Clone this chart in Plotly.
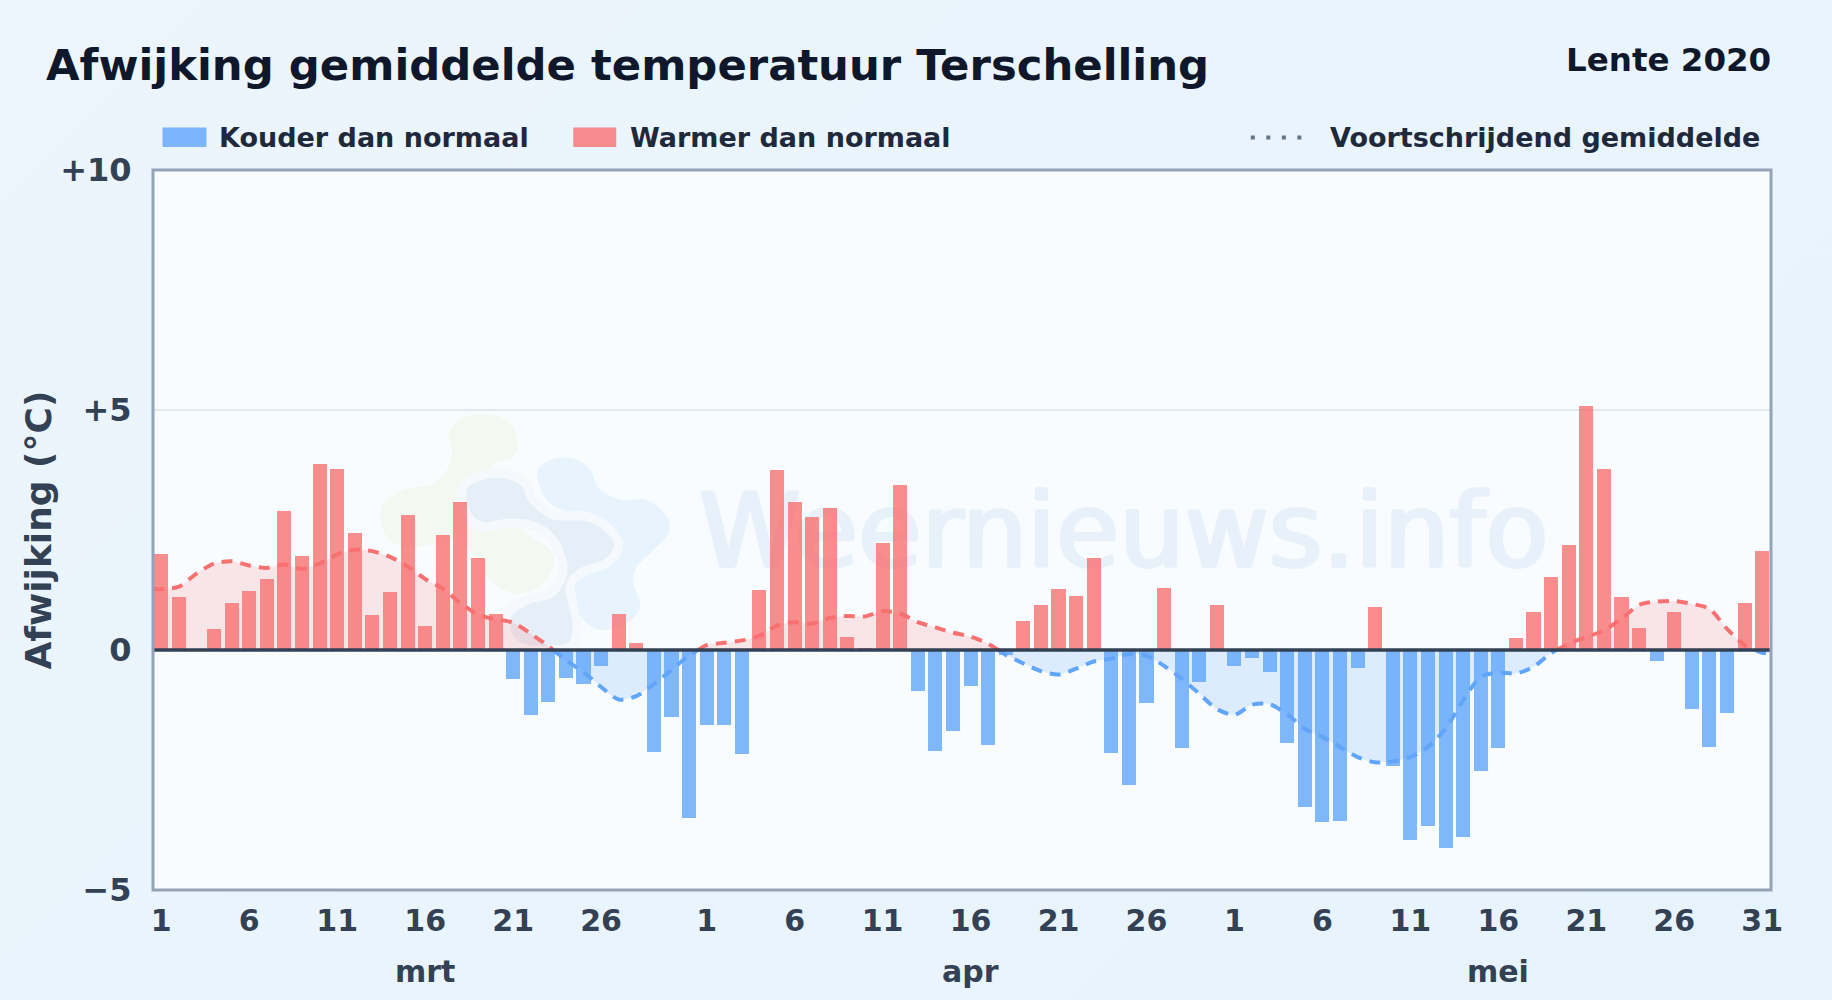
import pandas as pd
import plotly.graph_objects as go

# ---------- data ----------
start_date = "2020-03-01"
end_date = "2020-05-31"
afwijking = [
    1.99, 1.10, 0.00, 0.43, 0.97, 1.22, 1.47, 2.89, 1.95, 3.88, 3.78, 2.43, 0.72, 1.20, 2.82, 0.51,
    2.39, 3.09, 1.91, 0.74, -0.61, -1.36, -1.09, -0.59, -0.71, -0.34, 0.76, 0.14, -2.13, -1.40, -3.50,
    -1.57, -1.57, -2.17, 1.26, 3.75, 3.09, 2.78, 2.95, 0.28, 0.05, 2.22, 3.43, -0.86, -2.11, -1.69,
    -0.76, -1.98, -0.10, 0.60, 0.93, 1.28, 1.12, 1.91, -2.15, -2.82, -1.11, 1.30, -2.05, -0.67, 0.93,
    -0.34, -0.17, -0.46, -1.94, -3.27, -3.59, -3.57, -0.38, 0.89, -2.42, -3.96, -3.67, -4.13, -3.90,
    -2.53, -2.05, 0.26, 0.80, 1.53, 2.18, 5.08, 3.78, 1.10, 0.45, -0.22, 0.80, -1.23, -2.03, -1.32,
    0.97, 2.07,
]
voortschrijdend = [
    1.27, 1.32, 1.59, 1.80, 1.85, 1.76, 1.71, 1.78, 1.69, 1.80, 1.99, 2.09, 2.06, 1.94, 1.74, 1.48,
    1.28, 0.98, 0.74, 0.64, 0.57, 0.34, 0.08, -0.21, -0.46, -0.77, -1.03, -0.96, -0.71, -0.42, -0.11,
    0.10, 0.15, 0.20, 0.30, 0.51, 0.58, 0.55, 0.67, 0.71, 0.70, 0.81, 0.76, 0.58, 0.47, 0.36,
    0.28, 0.13, -0.10, -0.28, -0.44, -0.51, -0.39, -0.24, -0.18, -0.09, -0.12, -0.33, -0.60, -0.91, -1.23,
    -1.35, -1.14, -1.13, -1.34, -1.64, -1.81, -2.02, -2.23, -2.34, -2.32, -2.23, -2.02, -1.64, -1.05,
    -0.56, -0.47, -0.49, -0.35, -0.06, 0.13, 0.27, 0.41, 0.65, 0.94, 1.01, 1.02, 0.96, 0.86, 0.44,
    0.10, -0.06,
]
y_ticks = [-5, 0, 5, 10]
y_tick_labels = ["\u22125", "0", "+5", "+10"]
x_tick_dates = (
    [f"2020-03-{d:02d}" for d in (1, 6, 11, 16, 21, 26)]
    + [f"2020-04-{d:02d}" for d in (1, 6, 11, 16, 21, 26)]
    + [f"2020-05-{d:02d}" for d in (1, 6, 11, 16, 21, 26, 31)]
)
x_tick_labels = [d[-2:].lstrip("0") for d in x_tick_dates]
months = ["mrt", "apr", "mei"]
month_dates = ["2020-03-16", "2020-04-16", "2020-05-16"]

# ---------- style ----------
W, H = 1832, 1000
L, R, T, B = 152.5, 1771.5, 169.5, 890.5
FONT = "DejaVu Sans"
RED, BLUE = "#f87171", "#60a5fa"
DAY_MS = 86400000
WM = "#e8f1fa"


def fx(px):
    return (px - L) / (R - L)


def fy(py):
    return (B - py) / (B - T)


dates = pd.date_range(start_date, end_date, freq="D")
x_range = [dates[0] - pd.Timedelta(hours=11.3), dates[-1] + pd.Timedelta(hours=12)]

# line reaches the frame at both ends: same level as the first / last reading
line_x = [x_range[0]] + list(dates) + [x_range[1]]
line_y = [voortschrijdend[0]] + voortschrijdend + [voortschrijdend[-1]]


def split_by_sign(xs, ys):
    """Runs of equal sign, closed off where the line crosses zero."""
    runs, cur = [], [(xs[0], ys[0])]
    for i in range(1, len(xs)):
        a, b = ys[i - 1], ys[i]
        if (a >= 0) != (b >= 0):
            xc = xs[i - 1] + (xs[i] - xs[i - 1]) * (a / (a - b))
            cur.append((xc, 0))
            runs.append(((a >= 0), cur))
            cur = [(xc, 0)]
        cur.append((xs[i], b))
    runs.append((ys[-1] >= 0, cur))
    return runs


fig = go.Figure()

# watermark text sits in the lower subplot, behind the bars
fig.add_trace(go.Scatter(
    x=[pd.Timestamp("2020-04-24 17:00")], y=[2.27], mode="text", text=["Weernieuws.info"],
    textposition="middle center",
    textfont=dict(family=FONT, size=103, color=WM,
                  shadow=f"2px 0 0 {WM}, -2px 0 0 {WM}, 0 1px 0 {WM}, 0 -1px 0 {WM}"),
    hoverinfo="skip", showlegend=False, cliponaxis=False,
))

for warm, run in split_by_sign(line_x, line_y):
    col = RED if warm else BLUE
    fill = "rgba(248,113,113,0.16)" if warm else "rgba(96,165,250,0.18)"
    fig.add_trace(go.Scatter(
        x=[p[0] for p in run], y=[p[1] for p in run], mode="lines",
        line=dict(color=col, width=4, dash="11px,8px", shape="spline", smoothing=0.8),
        fill="tozeroy", fillcolor=fill, hoverinfo="skip", showlegend=False,
    ))

fig.add_trace(go.Bar(
    x=dates, y=[v if v < 0 else None for v in afwijking], yaxis="y2", width=0.8 * DAY_MS,
    marker=dict(color="rgba(96,165,250,0.8)", line_width=0), name="Kouder dan normaal", showlegend=False,
))
fig.add_trace(go.Bar(
    x=dates, y=[v if v > 0 else None for v in afwijking], yaxis="y2", width=0.8 * DAY_MS,
    marker=dict(color="rgba(248,113,113,0.8)", line_width=0), name="Warmer dan normaal", showlegend=False,
))

# ---------- logo behind the chart ----------
green_blob = [(265, 130), (300, 85), (370, 72), (440, 90), (472, 150), (460, 200), (400, 225), (400, 300),
              (500, 430), (570, 480), (580, 530), (540, 590), (470, 610), (400, 580), (340, 500), (300, 450),
              (170, 470), (100, 460), (60, 400), (70, 340), (130, 300), (220, 280), (265, 230), (275, 180)]
light_blob = [(530, 250), (570, 210), (640, 205), (690, 240), (720, 300), (790, 330), (860, 330), (920, 380),
              (925, 430), (880, 480), (830, 530), (820, 580), (840, 650), (800, 700), (720, 720), (670, 690),
              (630, 640), (640, 560), (700, 450), (620, 370), (560, 330)]
dark_blob = [(305, 300), (340, 265), (420, 250), (490, 275), (520, 330), (580, 375), (680, 380), (750, 420),
             (775, 470), (740, 520), (670, 545), (630, 590), (650, 700), (640, 760), (600, 778), (500, 778),
             (445, 740), (445, 670), (500, 630), (570, 610), (605, 560), (605, 510), (570, 440), (510, 405),
             (440, 400), (370, 410), (320, 375)]


def blob_path(points):
    pts = [(fx(360 + a / 3), fy(390 + b / 3)) for a, b in points]
    n = len(pts)
    d = f"M{pts[0][0]:.5f},{pts[0][1]:.5f}"
    for i in range(n):
        p0, p1, p2, p3 = pts[i - 1], pts[i], pts[(i + 1) % n], pts[(i + 2) % n]
        c1 = (p1[0] + (p2[0] - p0[0]) / 6, p1[1] + (p2[1] - p0[1]) / 6)
        c2 = (p2[0] - (p3[0] - p1[0]) / 6, p2[1] - (p3[1] - p1[1]) / 6)
        d += f" C{c1[0]:.5f},{c1[1]:.5f} {c2[0]:.5f},{c2[1]:.5f} {p2[0]:.5f},{p2[1]:.5f}"
    return d + " Z"


shapes = [
    dict(type="path", xref="paper", yref="paper", layer="below", path=blob_path(green_blob),
         fillcolor="#f3f9f1", line=dict(width=0)),
    dict(type="path", xref="paper", yref="paper", layer="below", path=blob_path(light_blob),
         fillcolor="#e7f4fe", line=dict(width=0)),
    dict(type="path", xref="paper", yref="paper", layer="below", path=blob_path(dark_blob),
         fillcolor="#e6eef7", line=dict(color="#f5f9fd", width=9)),
    # zero line on top of the bars
    dict(type="line", xref="paper", x0=0, x1=1, yref="y", y0=0, y1=0, layer="above",
         line=dict(color="#334155", width=3.5)),
    # frame of the plot area, centred on its edges
    dict(type="rect", xref="paper", yref="paper", x0=0, x1=1, y0=0, y1=1, layer="above",
         fillcolor="rgba(0,0,0,0)", line=dict(color="#94a3b8", width=3)),
    # legend swatches
    dict(type="rect", xref="paper", yref="paper", x0=fx(162), x1=fx(206), y0=fy(146.5), y1=fy(127),
         fillcolor="rgba(96,165,250,0.8)", line_width=0),
    dict(type="rect", xref="paper", yref="paper", x0=fx(573), x1=fx(616), y0=fy(146.5), y1=fy(127),
         fillcolor="rgba(248,113,113,0.8)", line_width=0),
    dict(type="line", xref="paper", yref="paper", x0=fx(1251), x1=fx(1308), y0=fy(137), y1=fy(137),
         line=dict(color="#64748b", width=4, dash="4px,11.5px")),
]


def text(s, px, py, size, color, anchor="left", xref="paper", x=None, angle=0):
    return dict(text=s, xref=xref, yref="paper", x=fx(px) if x is None else x, y=fy(py),
                xanchor=anchor, yanchor="middle", showarrow=False, textangle=angle,
                font=dict(family=FONT, size=size, color=color, weight="bold"))


annotations = [
    text("Afwijking gemiddelde temperatuur Terschelling", 43, 64, 43.35, "#0f172a"),
    text("Lente 2020", 1774, 59, 32.5, "#0f172a", anchor="right"),
    text("Kouder dan normaal", 217, 137, 27, "#1e293b"),
    text("Warmer dan normaal", 628, 137, 27, "#1e293b"),
    text("Voortschrijdend gemiddelde", 1328, 137, 27, "#1e293b"),
    text("Afwijking (\u00b0C)", 37, 530, 36, "#334155", anchor="center", angle=-90),
]
for m, d in zip(months, month_dates):
    annotations.append(text(m, 0, 972, 30, "#334155", anchor="center", xref="x", x=d))

fig.update_layout(
    width=W, height=H, autosize=False,
    margin=dict(l=L, r=W - R, t=T, b=H - B, pad=0),
    paper_bgcolor="rgba(0,0,0,0)", plot_bgcolor="#f8fcff",
    barmode="overlay", bargap=0, showlegend=False,
    font=dict(family=FONT),
    shapes=shapes, annotations=annotations,
    xaxis=dict(
        type="date", range=x_range, tickmode="array", tickvals=x_tick_dates, ticktext=x_tick_labels,
        tickfont=dict(family=FONT, size=30, color="#334155", weight="bold"),
        ticks="outside", ticklen=4, tickcolor="rgba(0,0,0,0)", showgrid=False, zeroline=False, showline=False,
    ),
    yaxis=dict(
        range=[-5, 10], tickmode="array", tickvals=y_ticks, ticktext=y_tick_labels,
        tickfont=dict(family=FONT, size=32, color="#334155", weight="bold"),
        ticks="outside", ticklen=14, tickcolor="rgba(0,0,0,0)",
        showgrid=True, gridcolor="#e2e8f0", gridwidth=2, zeroline=False, showline=False,
        automargin=False,
    ),
    yaxis2=dict(range=[-5, 10], overlaying="y", visible=False),
)

fig.write_html(
    "out.html", config={"displayModeBar": False},
    post_script="document.body.style.margin='0';"
                "document.body.style.background='linear-gradient(135deg,#ecf5fc,#e7f3fc)';",
)
